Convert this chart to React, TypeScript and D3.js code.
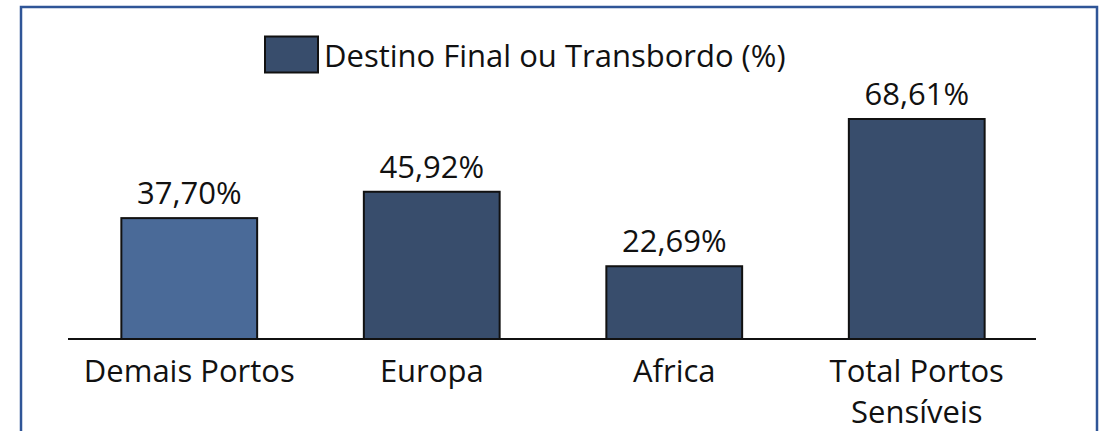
import React from "react";
import * as d3 from "d3";

const categories: string[][] = [["Demais Portos"], ["Europa"], ["Africa"], ["Total Portos", "Sensíveis"]];
const values: number[] = [37.70, 45.92, 22.69, 68.61];
const valueLabels: string[] = ["37,70%", "45,92%", "22,69%", "68,61%"];
const barColors: string[] = ["#4a6a98", "#384d6c", "#384d6c", "#384d6c"];
const legendLabel = "Destino Final ou Transbordo (%)";

const W = 1107;
const H = 431;
const FONT = "'Open Sans', sans-serif";
const FS = 31;

export default function App() {
  const baseline = 339;
  const x = d3.scaleBand<number>().domain(d3.range(values.length)).range([68, 1038]).paddingInner(0.44).paddingOuter(0.22);
  const y = d3.scaleLinear().domain([0, 68.61]).range([baseline, 119]);
  return (
    <svg width={W} height={H} style={{ position: "absolute", left: 0, top: 0 }}>
      <rect x={0} y={0} width={W} height={H} fill="#fff" />
      <rect x={21} y={7} width={1076} height={H} fill="none" stroke="#2f5597" strokeWidth={2.5} />
      <rect x={265} y={36.5} width={53} height={36} fill="#384d6c" stroke="#111" strokeWidth={2} />
      <text x={324} y={67} fontFamily={FONT} fontSize={FS} fill="#111">{legendLabel}</text>
      {values.map((v, i) => (
        <g key={i}>
          <rect x={x(i)} y={y(v)} width={x.bandwidth()} height={baseline - y(v)} fill={barColors[i]} stroke="#111" strokeWidth={2} />
          <text x={(x(i) as number) + x.bandwidth() / 2} y={y(v) - 14} textAnchor="middle" fontFamily={FONT} fontSize={FS} fill="#111">{valueLabels[i]}</text>
          {categories[i].map((line, j) => (
            <text key={j} x={(x(i) as number) + x.bandwidth() / 2} y={382 + j * 41} textAnchor="middle" fontFamily={FONT} fontSize={FS} fill="#111">{line}</text>
          ))}
        </g>
      ))}
      <line x1={68} x2={1036} y1={baseline} y2={baseline} stroke="#111" strokeWidth={2} />
    </svg>
  );
}
